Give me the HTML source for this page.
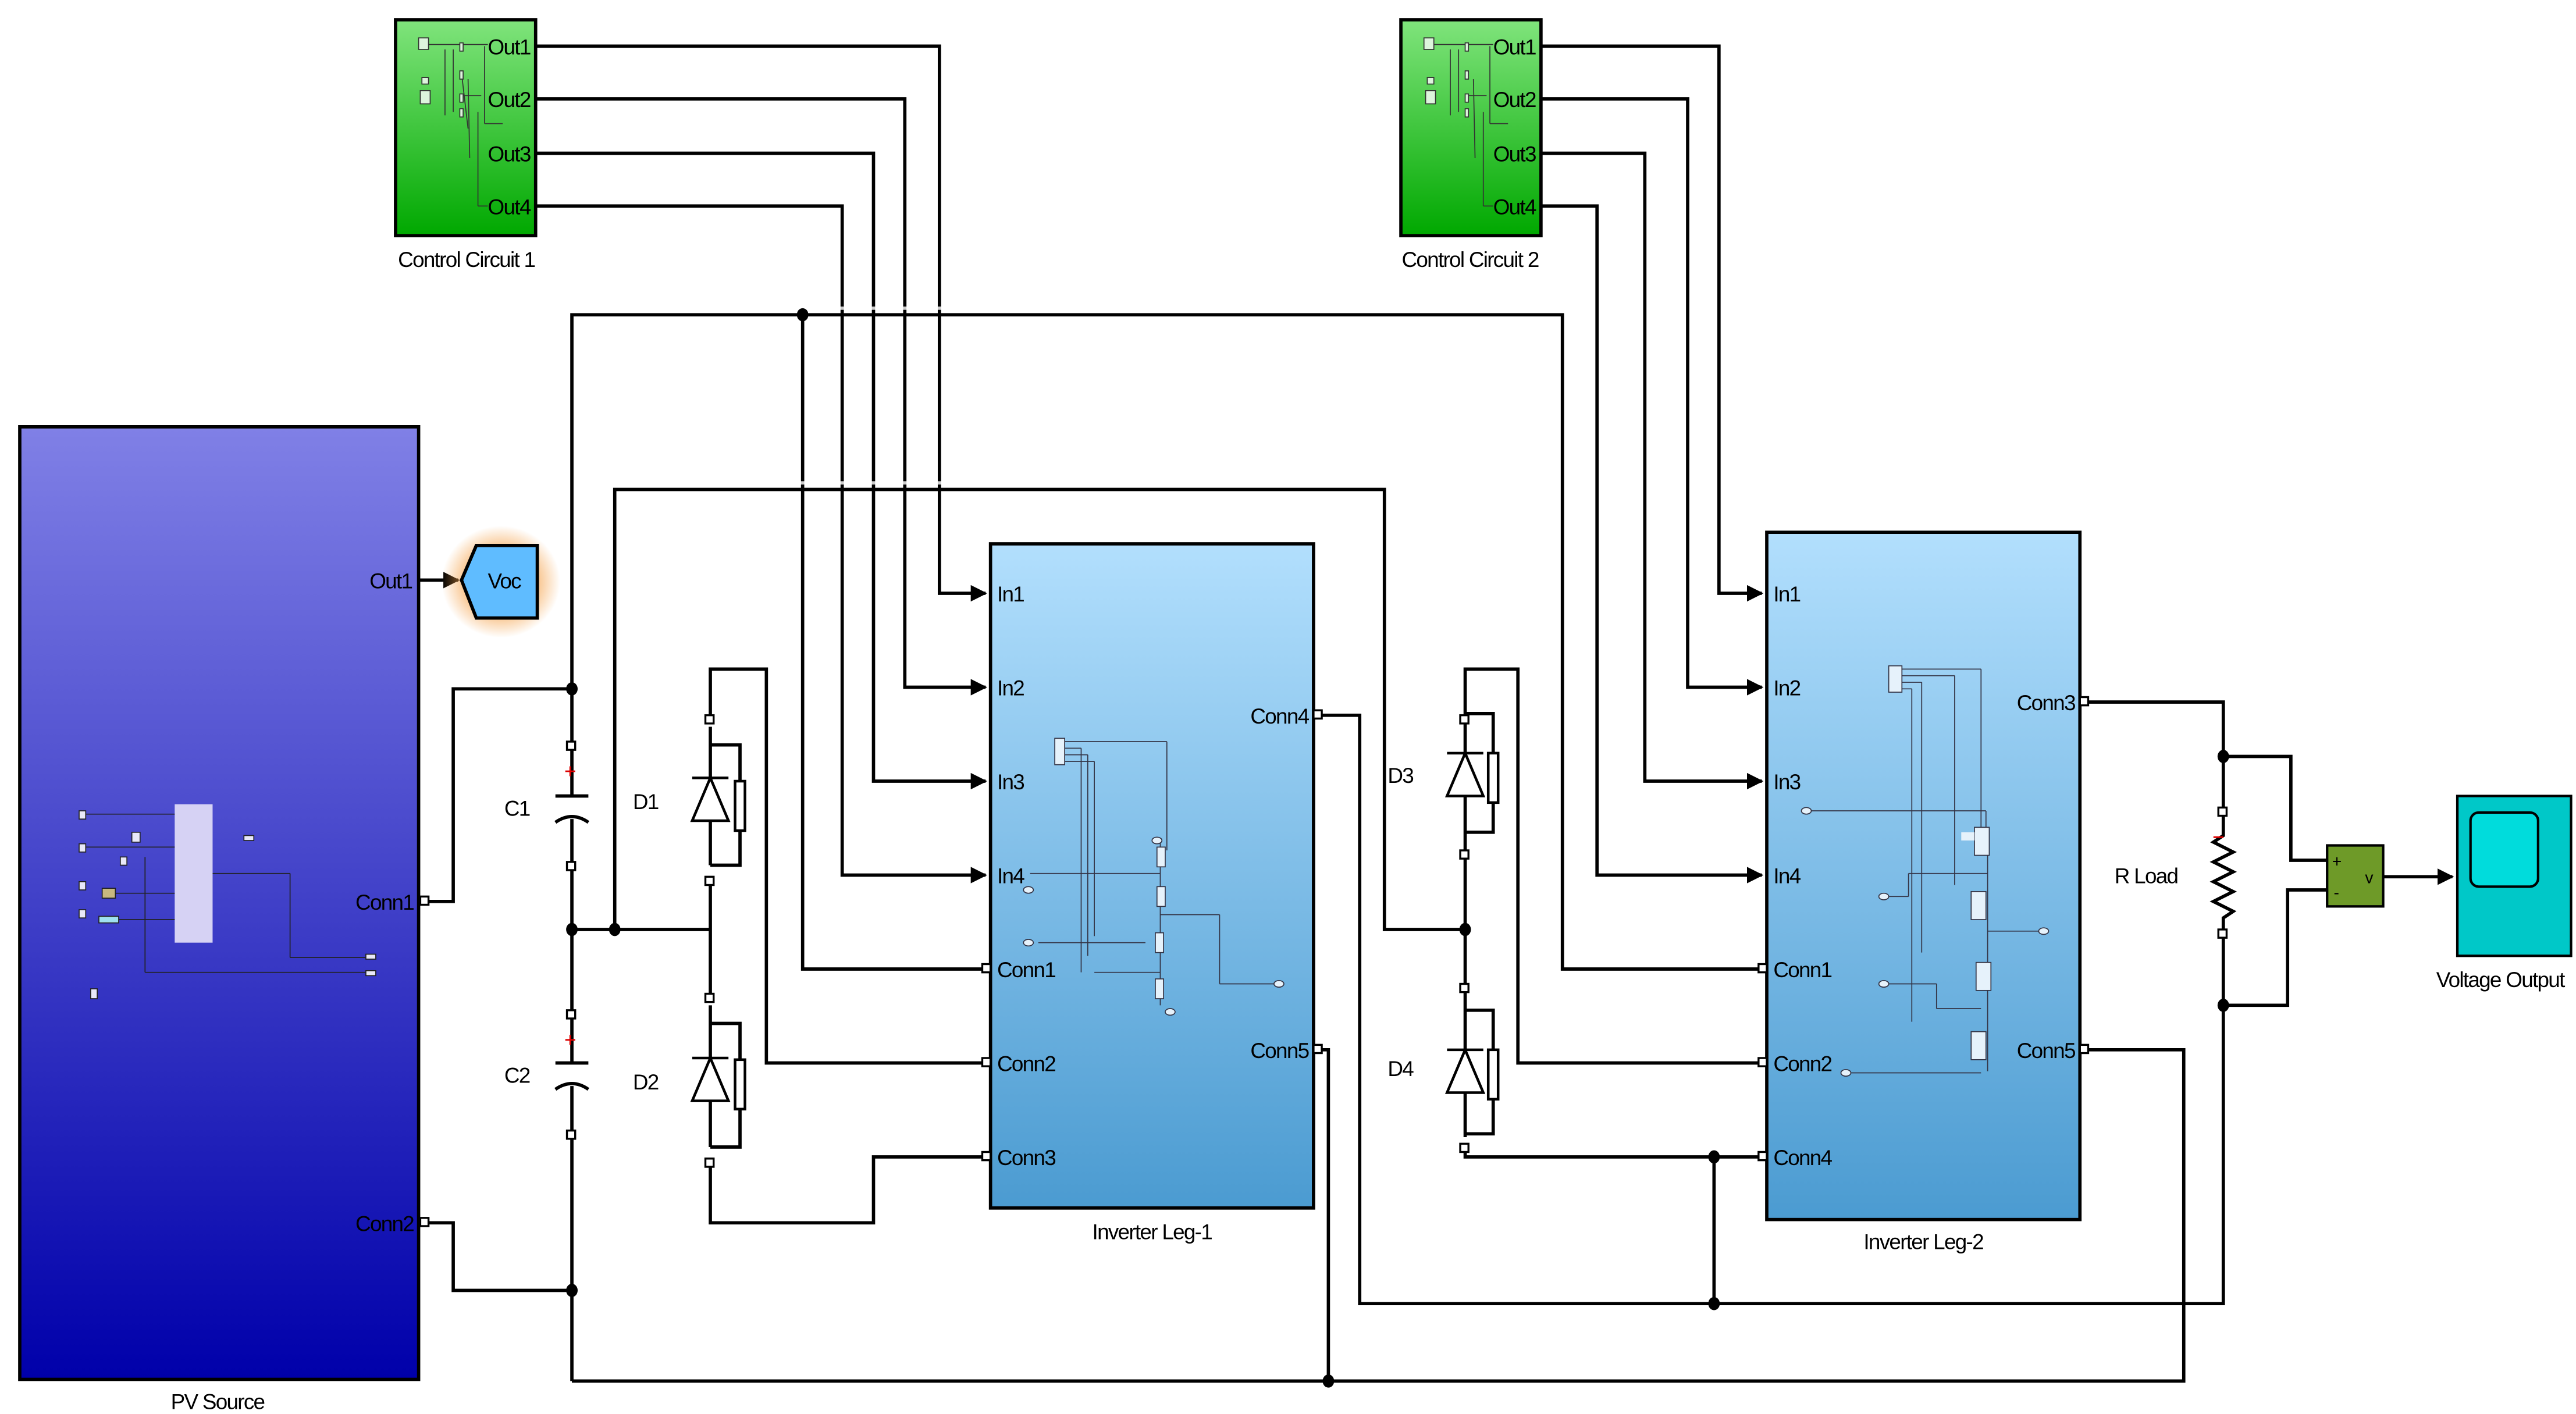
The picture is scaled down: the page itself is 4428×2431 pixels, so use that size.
<!DOCTYPE html>
<html><head><meta charset="utf-8"><style>
html,body{margin:0;padding:0;background:#fff;}
svg{display:block;}
text{font-family:"Liberation Sans Narrow","Liberation Sans",sans-serif;font-size:13px;letter-spacing:-0.6px;fill:#000;}
</style></head><body>
<svg width="4428" height="2431" viewBox="0 0 1563 858" preserveAspectRatio="none" xmlns="http://www.w3.org/2000/svg">
<defs>
<linearGradient id="gG" x1="0" y1="0" x2="0" y2="1"><stop offset="0" stop-color="#80e47c"/><stop offset="1" stop-color="#00a800"/></linearGradient>
<linearGradient id="gB" x1="0" y1="0" x2="0" y2="1"><stop offset="0" stop-color="#b2dffd"/><stop offset="1" stop-color="#4b9bd1"/></linearGradient>
<linearGradient id="gP" x1="0" y1="0" x2="0" y2="1"><stop offset="0" stop-color="#8080e6"/><stop offset="1" stop-color="#0000aa"/></linearGradient>
<radialGradient id="glow"><stop offset="0.5" stop-color="#f5a24a" stop-opacity="0.8"/><stop offset="1" stop-color="#f5a24a" stop-opacity="0"/></radialGradient>
<marker id="ar" markerWidth="10" markerHeight="10" refX="9" refY="5" orient="auto" markerUnits="userSpaceOnUse"><path d="M0,0 L10,5 L0,10 z" fill="#000"/></marker>
</defs>

<rect x="240" y="12" width="85" height="131" fill="url(#gG)" stroke="#000" stroke-width="2"/>
<rect x="850" y="12" width="85" height="131" fill="url(#gG)" stroke="#000" stroke-width="2"/>
<rect x="601" y="330" width="196" height="403" fill="url(#gB)" stroke="#000" stroke-width="2"/>
<rect x="1072" y="323" width="190" height="417" fill="url(#gB)" stroke="#000" stroke-width="2"/>
<rect x="12" y="259" width="242" height="578" fill="url(#gP)" stroke="#000" stroke-width="2"/>

<g stroke="#333" stroke-width="0.6" fill="#ddf5dd">
<rect x="254" y="23" width="6" height="7"/><rect x="256" y="47" width="4" height="4"/><rect x="255" y="55" width="6" height="8"/>
<line x1="260" y1="27" x2="280" y2="27"/><line x1="280" y1="27" x2="296" y2="27"/><line x1="270" y1="30" x2="270" y2="70"/><line x1="275" y1="30" x2="275" y2="68"/>
<line x1="280" y1="44" x2="284" y2="78"/><line x1="284" y1="48" x2="285" y2="96"/><line x1="280" y1="58" x2="292" y2="58"/><line x1="290" y1="68" x2="290" y2="125"/><line x1="290" y1="125" x2="296" y2="125"/>
<line x1="294" y1="28" x2="294" y2="75"/><line x1="294" y1="75" x2="305" y2="75"/>
<rect x="279" y="26" width="2" height="5"/><rect x="279" y="43" width="2" height="5"/><rect x="279" y="57" width="2" height="5"/><rect x="279" y="66" width="2" height="5"/>
</g>
<g stroke="#333" stroke-width="0.6" fill="#ddf5dd">
<rect x="864" y="23" width="6" height="7"/><rect x="866" y="47" width="4" height="4"/><rect x="865" y="55" width="6" height="8"/>
<line x1="870" y1="27" x2="906" y2="27"/><line x1="880" y1="30" x2="880" y2="70"/><line x1="885" y1="30" x2="885" y2="68"/>
<line x1="894" y1="48" x2="895" y2="96"/><line x1="890" y1="58" x2="902" y2="58"/><line x1="900" y1="68" x2="900" y2="125"/><line x1="900" y1="125" x2="906" y2="125"/>
<line x1="904" y1="28" x2="904" y2="75"/><line x1="904" y1="75" x2="915" y2="75"/>
<rect x="889" y="26" width="2" height="5"/><rect x="889" y="43" width="2" height="5"/><rect x="889" y="57" width="2" height="5"/><rect x="889" y="66" width="2" height="5"/>
</g>

<rect x="106" y="488" width="23" height="84" fill="#d6d2f4"/>
<g stroke="#222" stroke-width="0.6" fill="#e8e8f8">
<rect x="48" y="492" width="4" height="5"/><rect x="48" y="512" width="4" height="5"/><rect x="48" y="535" width="4" height="5"/><rect x="48" y="552" width="4" height="5"/>
<rect x="80" y="505" width="5" height="6"/><rect x="73" y="520" width="4" height="5"/><rect x="62" y="539" width="8" height="6" fill="#c8b880"/><rect x="60" y="556" width="12" height="4" fill="#9fe0f0"/>
<rect x="148" y="507" width="6" height="3"/><rect x="55" y="600" width="4" height="6"/>
<line x1="52" y1="494" x2="106" y2="494"/><line x1="52" y1="514" x2="106" y2="514"/><line x1="70" y1="542" x2="106" y2="542"/><line x1="72" y1="558" x2="106" y2="558"/>
<line x1="129" y1="530" x2="176" y2="530"/><line x1="176" y1="530" x2="176" y2="581"/><line x1="176" y1="581" x2="224" y2="581"/>
<line x1="88" y1="520" x2="88" y2="590"/><line x1="88" y1="590" x2="224" y2="590"/>
<rect x="222" y="579" width="6" height="3"/><rect x="222" y="589" width="6" height="3"/>
</g>

<g stroke="#334" stroke-width="0.6" fill="#e6f2fb">
<line x1="646" y1="450" x2="708" y2="450"/><line x1="646" y1="454" x2="656" y2="454"/><line x1="646" y1="458" x2="660" y2="458"/><line x1="646" y1="462" x2="664" y2="462"/>
<line x1="656" y1="454" x2="656" y2="590"/><line x1="660" y1="458" x2="660" y2="580"/><line x1="664" y1="462" x2="664" y2="568"/><line x1="708" y1="450" x2="708" y2="516"/>
<rect x="640" y="448" width="6" height="16"/>
<line x1="625" y1="530" x2="704" y2="530"/><line x1="704" y1="510" x2="704" y2="610"/>
<line x1="704" y1="555" x2="740" y2="555"/><line x1="740" y1="555" x2="740" y2="597"/><line x1="740" y1="597" x2="775" y2="597"/>
<line x1="630" y1="572" x2="695" y2="572"/><line x1="664" y1="590" x2="704" y2="590"/>
<rect x="702" y="514" width="5" height="12"/><rect x="702" y="538" width="5" height="12"/><rect x="701" y="566" width="5" height="12"/><rect x="701" y="594" width="5" height="12"/>
<ellipse cx="624" cy="540" rx="3" ry="2"/><ellipse cx="624" cy="572" rx="3" ry="2"/><ellipse cx="702" cy="510" rx="3" ry="2"/><ellipse cx="710" cy="614" rx="3" ry="2"/><ellipse cx="776" cy="597" rx="3" ry="2"/>
</g>
<g stroke="#334" stroke-width="0.6" fill="#e6f2fb">
<rect x="1146" y="404" width="8" height="16"/>
<line x1="1154" y1="406" x2="1202" y2="406"/><line x1="1202" y1="406" x2="1202" y2="505"/>
<line x1="1154" y1="410" x2="1186" y2="410"/><line x1="1186" y1="410" x2="1186" y2="537"/>
<line x1="1154" y1="414" x2="1166" y2="414"/><line x1="1166" y1="414" x2="1166" y2="578"/>
<line x1="1154" y1="418" x2="1160" y2="418"/><line x1="1160" y1="418" x2="1160" y2="620"/>
<line x1="1098" y1="492" x2="1205" y2="492"/><line x1="1205" y1="492" x2="1205" y2="505"/>
<line x1="1206" y1="505" x2="1206" y2="650"/>
<line x1="1143" y1="544" x2="1158" y2="544"/><line x1="1158" y1="544" x2="1158" y2="530"/><line x1="1158" y1="530" x2="1206" y2="530"/>
<line x1="1206" y1="565" x2="1240" y2="565"/>
<line x1="1143" y1="597" x2="1175" y2="597"/><line x1="1175" y1="597" x2="1175" y2="612"/><line x1="1175" y1="612" x2="1202" y2="612"/>
<line x1="1120" y1="651" x2="1202" y2="651"/>
<rect x="1198" y="502" width="9" height="17"/><rect x="1190" y="505" width="8" height="5" stroke="none"/><rect x="1196" y="541" width="9" height="17"/><rect x="1199" y="584" width="9" height="17"/><rect x="1196" y="626" width="9" height="17"/>
<ellipse cx="1096" cy="492" rx="3" ry="2"/><ellipse cx="1143" cy="544" rx="3" ry="2"/><ellipse cx="1143" cy="597" rx="3" ry="2"/><ellipse cx="1120" cy="651" rx="3" ry="2"/><ellipse cx="1240" cy="565" rx="3" ry="2"/>
</g>

<g stroke="#000" stroke-width="2" fill="none">
<polyline points="325,28 570,28 570,360 598,360" marker-end="url(#ar)"/>
<polyline points="325,60 549,60 549,417 598,417" marker-end="url(#ar)"/>
<polyline points="325,93 530,93 530,474 598,474" marker-end="url(#ar)"/>
<polyline points="325,125 511,125 511,531 598,531" marker-end="url(#ar)"/>
<polyline points="935,28 1043,28 1043,360 1069,360" marker-end="url(#ar)"/>
<polyline points="935,60 1024,60 1024,417 1069,417" marker-end="url(#ar)"/>
<polyline points="935,93 998,93 998,474 1069,474" marker-end="url(#ar)"/>
<polyline points="935,125 969,125 969,531 1069,531" marker-end="url(#ar)"/>
<polyline points="347,418 347,191 948,191 948,588 1069,588"/>
<polyline points="487,191 487,588 598,588"/>
<polyline points="373,564 373,297 840,297 840,564 889,564"/>
<polyline points="254,547 275,547 275,418 347,418"/>
<polyline points="254,742 275,742 275,783 347,783"/>
<line x1="347" y1="418" x2="347" y2="483"/><line x1="347" y1="497" x2="347" y2="645"/><line x1="347" y1="659" x2="347" y2="838"/>
<polyline points="347,838 1325,838 1325,637 1266,637"/>
<polyline points="806,838 806,637 801,637"/>
<line x1="347" y1="564" x2="431" y2="564"/>
<polyline points="431,437 431,406 465,406 465,645 598,645"/>
<polyline points="431,535 431,606"/>
<polyline points="431,706 431,742 530,742 530,702 598,702"/>
<polyline points="431,441 431,525"/><polyline points="431,452 449,452 449,525 431,525"/>
<polyline points="431,610 431,696"/><polyline points="431,621 449,621 449,696 431,696"/>
<polyline points="889,437 889,406 921,406 921,645 1069,645"/>
<polyline points="889,519 889,600"/>
<polyline points="889,697 889,702 1069,702"/>
<polyline points="889,437 889,519"/><polyline points="889,433 906,433 906,505 889,505"/>
<polyline points="889,600 889,690"/><polyline points="889,613 906,613 906,688 889,688"/>
<polyline points="801,434 825,434 825,791 1349,791 1349,610"/>
<line x1="1040" y1="702" x2="1040" y2="791"/>
<polyline points="1266,426 1349,426 1349,493"/>
<polyline points="1349,567 1349,610"/>
<polyline points="1349,493 1349,507 1343,511 1355,517 1343,523 1355,529 1343,535 1355,541 1343,547 1355,553 1349,557 1349,567"/>
<polyline points="1349,459 1390,459 1390,522 1412,522"/>
<polyline points="1349,610 1388,610 1388,540 1412,540"/>
<polyline points="1446,532 1488,532" marker-end="url(#ar)"/>
<polyline points="254,352 278,352" marker-end="url(#ar)"/>
</g>
<g stroke="#fff" stroke-width="2.5" opacity="0.8">
<line x1="511" y1="186" x2="511" y2="188"/><line x1="530" y1="186" x2="530" y2="188"/><line x1="549" y1="186" x2="549" y2="188"/><line x1="570" y1="186" x2="570" y2="188"/>
<line x1="487" y1="292" x2="487" y2="294"/><line x1="511" y1="292" x2="511" y2="294"/><line x1="530" y1="292" x2="530" y2="294"/><line x1="549" y1="292" x2="549" y2="294"/><line x1="570" y1="292" x2="570" y2="294"/>
</g>

<g stroke="#000" stroke-width="1.6" fill="#fff">
<polygon points="420,498 442,498 431,472"/><line x1="420" y1="472" x2="442" y2="472"/><rect x="446" y="474" width="6" height="30"/>
<polygon points="420,668 442,668 431,642"/><line x1="420" y1="642" x2="442" y2="642"/><rect x="446" y="643" width="6" height="30"/>
<polygon points="878,483 900,483 889,457"/><line x1="878" y1="457" x2="900" y2="457"/><rect x="903" y="457" width="6" height="30"/>
<polygon points="878,663 900,663 889,637"/><line x1="878" y1="637" x2="900" y2="637"/><rect x="903" y="637" width="6" height="30"/>
</g>
<g stroke="#000" stroke-width="2">
<line x1="337" y1="483" x2="357" y2="483"/><path d="M337,499 Q347,492 357,499" fill="none"/>
<line x1="337" y1="645" x2="357" y2="645"/><path d="M337,661 Q347,654 357,661" fill="none"/>
</g>
<g stroke="#d00" stroke-width="1"><line x1="343" y1="468" x2="349" y2="468"/><line x1="346" y1="465" x2="346" y2="471"/><line x1="343" y1="631" x2="349" y2="631"/><line x1="346" y1="628" x2="346" y2="634"/><line x1="1343" y1="508" x2="1349" y2="508"/></g>
<g fill="#fff" stroke="#000" stroke-width="1.2">
<rect x="344" y="450" width="5" height="5"/><rect x="344" y="523" width="5" height="5"/><rect x="344" y="613" width="5" height="5"/><rect x="344" y="686" width="5" height="5"/>
<rect x="428" y="434" width="5" height="5"/><rect x="428" y="532" width="5" height="5"/><rect x="428" y="603" width="5" height="5"/><rect x="428" y="703" width="5" height="5"/>
<rect x="886" y="434" width="5" height="5"/><rect x="886" y="516" width="5" height="5"/><rect x="886" y="597" width="5" height="5"/><rect x="886" y="694" width="5" height="5"/>
<rect x="1346" y="490" width="5" height="5"/><rect x="1346" y="564" width="5" height="5"/>
<rect x="255" y="544" width="5" height="5"/><rect x="255" y="739" width="5" height="5"/>
<rect x="596" y="585" width="5" height="5"/><rect x="596" y="642" width="5" height="5"/><rect x="596" y="699" width="5" height="5"/>
<rect x="797" y="431" width="5" height="5"/><rect x="797" y="634" width="5" height="5"/>
<rect x="1067" y="585" width="5" height="5"/><rect x="1067" y="642" width="5" height="5"/><rect x="1067" y="699" width="5" height="5"/>
<rect x="1262" y="423" width="5" height="5"/><rect x="1262" y="634" width="5" height="5"/>
</g>
<g fill="#000">
<ellipse cx="487" cy="191" rx="3.5" ry="4"/><ellipse cx="347" cy="418" rx="3.5" ry="4"/><ellipse cx="347" cy="564" rx="3.5" ry="4"/><ellipse cx="373" cy="564" rx="3.5" ry="4"/>
<ellipse cx="347" cy="783" rx="3.5" ry="4"/><ellipse cx="806" cy="838" rx="3.5" ry="4"/><ellipse cx="889" cy="564" rx="3.5" ry="4"/>
<ellipse cx="1040" cy="702" rx="3.5" ry="4"/><ellipse cx="1040" cy="791" rx="3.5" ry="4"/><ellipse cx="1349" cy="459" rx="3.5" ry="4"/><ellipse cx="1349" cy="610" rx="3.5" ry="4"/>
</g>

<ellipse cx="304" cy="353" rx="36" ry="34" fill="url(#glow)"/>
<polygon points="280,352 289,331 326,331 326,375 289,375" fill="#5fbcff" stroke="#000" stroke-width="2"/>
<text x="296" y="357">Voc</text>

<rect x="1412" y="513" width="34" height="37" fill="#6e9a28" stroke="#000" stroke-width="1.5"/>
<text x="1415" y="526" style="font-size:10px">+</text><text x="1416" y="545" style="font-size:10px">-</text><text x="1435" y="536" style="font-size:10px">v</text>
<rect x="1491" y="483" width="69" height="97" fill="#00c8c8" stroke="#000" stroke-width="1.5"/>
<rect x="1499" y="493" width="41" height="45" rx="5" fill="#00dcdc" stroke="#000" stroke-width="1.5"/>

<g>
<text x="296" y="33">Out1</text><text x="296" y="65">Out2</text><text x="296" y="98">Out3</text><text x="296" y="130">Out4</text>
<text x="906" y="33">Out1</text><text x="906" y="65">Out2</text><text x="906" y="98">Out3</text><text x="906" y="130">Out4</text>
<text x="283" y="162" text-anchor="middle">Control Circuit 1</text>
<text x="892" y="162" text-anchor="middle">Control Circuit 2</text>
<text x="250" y="357" text-anchor="end">Out1</text><text x="251" y="552" text-anchor="end">Conn1</text><text x="251" y="747" text-anchor="end">Conn2</text>
<text x="132" y="855" text-anchor="middle">PV Source</text>
<text x="605" y="365">In1</text><text x="605" y="422">In2</text><text x="605" y="479">In3</text><text x="605" y="536">In4</text>
<text x="605" y="593">Conn1</text><text x="605" y="650">Conn2</text><text x="605" y="707">Conn3</text>
<text x="794" y="439" text-anchor="end">Conn4</text><text x="794" y="642" text-anchor="end">Conn5</text>
<text x="699" y="752" text-anchor="middle">Inverter Leg-1</text>
<text x="1076" y="365">In1</text><text x="1076" y="422">In2</text><text x="1076" y="479">In3</text><text x="1076" y="536">In4</text>
<text x="1076" y="593">Conn1</text><text x="1076" y="650">Conn2</text><text x="1076" y="707">Conn4</text>
<text x="1259" y="431" text-anchor="end">Conn3</text><text x="1259" y="642" text-anchor="end">Conn5</text>
<text x="1167" y="758" text-anchor="middle">Inverter Leg-2</text>
<text x="306" y="495">C1</text><text x="306" y="657">C2</text>
<text x="384" y="491">D1</text><text x="384" y="661">D2</text>
<text x="842" y="475">D3</text><text x="842" y="653">D4</text>
<text x="1283" y="536">R Load</text>
<text x="1517" y="599" text-anchor="middle">Voltage Output</text>
</g>
</svg>
</body></html>
